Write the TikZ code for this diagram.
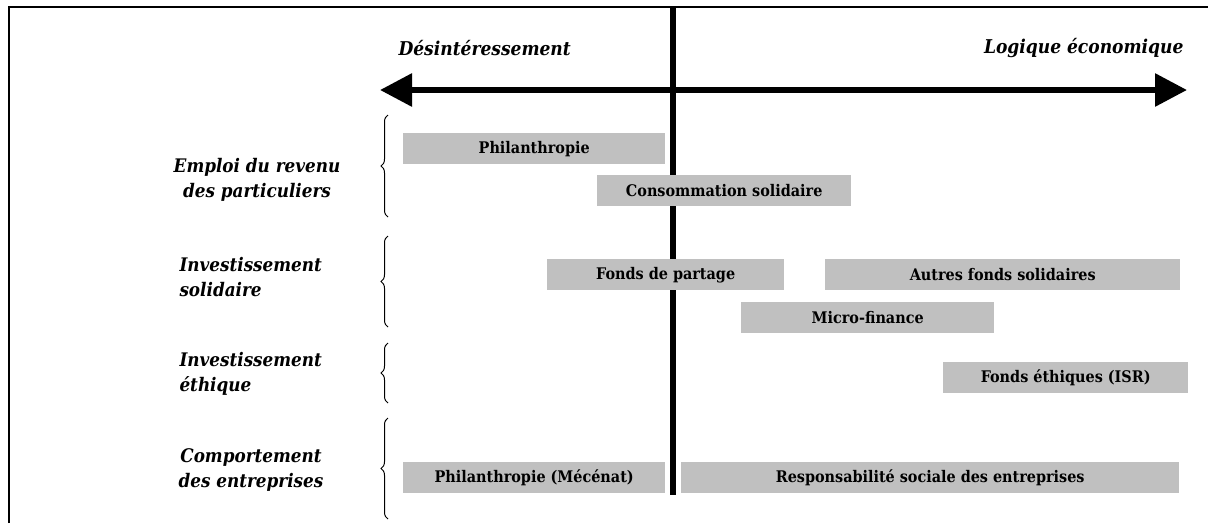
\documentclass[tikz,border=0pt]{standalone}
\usepackage{fontspec}
\setmainfont{DejaVu Serif Condensed}
\usetikzlibrary{arrows.meta,decorations.pathreplacing}
\definecolor{boxgray}{RGB}{192,192,192}
\begin{document}
\begin{tikzpicture}[x=1pt, y=-1pt,
  bar/.style={fill=boxgray, anchor=north west, inner sep=0pt, minimum height=31pt,
    font=\fontsize{16}{18}\selectfont\bfseries},
  family/.style={font=\fontsize{18.7}{25}\selectfont\bfseries\itshape},
  pole/.style={font=\fontsize{19}{22}\selectfont\bfseries\itshape},
  curly/.style={decorate, decoration={brace, amplitude=7pt}, line width=1pt},
  axis/.style={line width=6pt, {Triangle[length=32pt,width=32pt]}-{Triangle[length=32pt,width=32pt]}}]

\useasboundingbox (0,0) rectangle (1208,523);

% Frame (top and left)
\coordinate (frameTL) at (9,7);
\coordinate (frameTR) at (1208,7);
\coordinate (frameBL) at (9,523);
\draw[line width=2.5pt] (frameBL) -- (frameTL) -- (frameTR);

% Horizontal axis and the two poles
\coordinate (axisL) at (380,90);
\coordinate (axisR) at (1187,90);
\draw[axis] (axisL) -- (axisR);
\node[pole, anchor=west] (desint) at (395,48) {Désintéressement};
\node[pole, anchor=east] (logique) at (1187,48) {Logique économique};

% Vertical divider
\coordinate (divTop) at (673,7);
\coordinate (divBot) at (673,495);
\draw[line width=5.5pt] (divTop) -- (divBot);

% Emploi du revenu des particuliers
\node[family, align=center] (emploi) at (257,180) {Emploi du revenu\\des particuliers};
\draw[curly] (388,217) -- (388,115);
\node[bar, minimum width=262pt] (philan) at (403,133) {Philanthropie};
\node[bar, minimum width=254pt] (conso) at (597,175) {Consommation solidaire};

% Investissement solidaire
\node[family, align=left, anchor=west] (invsol) at (176,277) {Investissement\\solidaire};
\draw[curly] (388,327) -- (388,236);
\node[bar, minimum width=237pt] (partage) at (547,259) {Fonds de partage};
\node[bar, minimum width=355pt] (autres) at (825,259) {Autres fonds solidaires};
\node[bar, minimum width=253pt] (micro) at (741,302) {Micro-finance};

% Investissement ethique
\node[family, align=left, anchor=west] (inveth) at (176,374) {Investissement\\éthique};
\draw[curly] (388,403) -- (388,343);
\node[bar, minimum width=245pt] (isr) at (943,362) {Fonds éthiques (ISR)};

% Comportement des entreprises
\node[family, align=center] (comport) at (251,470) {Comportement\\des entreprises};
\draw[curly] (388,519) -- (388,418);
\node[bar, minimum width=262pt] (mecenat) at (403,462) {Philanthropie (Mécénat)};
\node[bar, minimum width=498pt] (rse) at (681,462) {Responsabilité sociale des entreprises};

\end{tikzpicture}
\end{document}
